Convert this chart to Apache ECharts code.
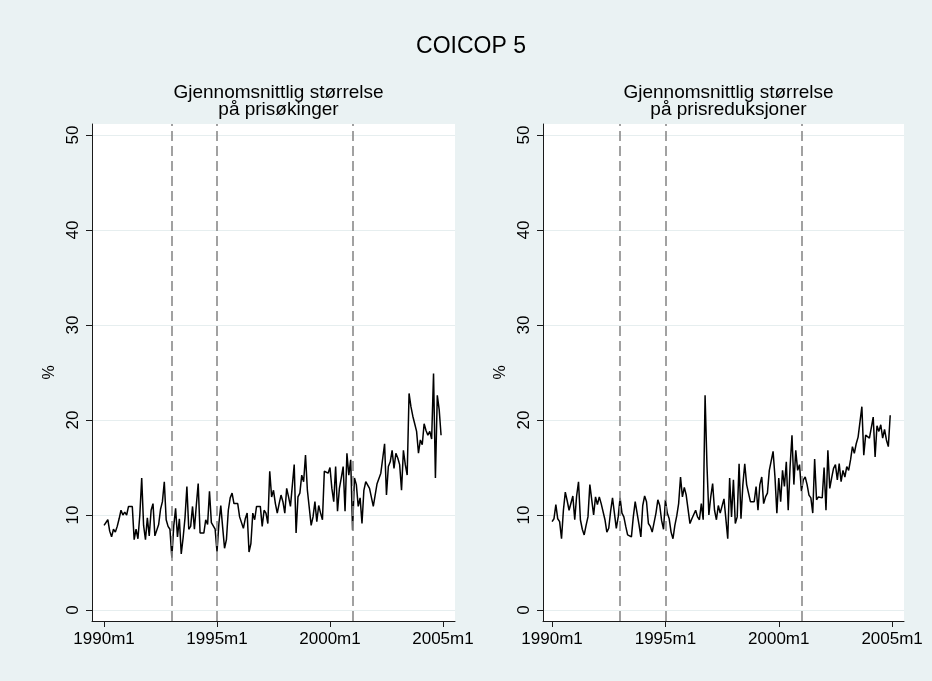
<!DOCTYPE html>
<html>
<head>
<meta charset="utf-8">
<script src="https://cdn.jsdelivr.net/npm/echarts@6/dist/echarts.min.js"></script>
<style>html,body{margin:0;padding:0;background:#EAF2F3;}#c{width:932px;height:681px;}</style>
</head>
<body>
<div id="c"></div>
<script>
// month index 0 = 1990m1
const xTickMonths = [0, 60, 120, 180];
const yTicks = [0, 10, 20, 30, 40, 50];
const eventMonths = [36, 60, 132];
const mainTitle = 'COICOP 5';
const leftTitle = 'Gjennomsnittlig størrelse\npå prisøkinger';
const rightTitle = 'Gjennomsnittlig størrelse\npå prisreduksjoner';

const increases = [
 8.9, 8.7, 9.5, 8.3, 7.7, 8.5, 8.2, 8.8, 9.6, 10.5,
 10.0, 10.3, 10.0, 10.9, 11.0, 10.9, 7.4, 8.5, 7.5, 10.0,
 13.9, 8.9, 7.4, 9.7, 7.8, 10.5, 11.2, 7.8, 8.0, 9.0,
 10.6, 11.4, 13.5, 9.5, 8.8, 8.5, 5.5, 8.8, 10.7, 7.7,
 9.6, 5.9, 7.6, 9.7, 13.0, 8.5, 8.8, 10.9, 8.5, 11.0,
 13.3, 8.1, 8.1, 8.1, 9.5, 9.0, 12.5, 9.2, 9.0, 8.5,
 6.1, 9.1, 11.0, 8.7, 6.5, 7.4, 10.5, 11.8, 12.3, 11.2,
 11.2, 11.2, 9.8, 10.0, 8.6, 9.6, 10.2, 6.1, 7.0, 10.2,
 9.5, 10.9, 10.7, 10.9, 8.8, 10.5, 10.2, 9.1, 14.6, 11.9,
 12.6, 11.2, 10.2, 11.2, 12.1, 11.4, 10.2, 12.8, 11.9, 10.9,
 10.7, 15.3, 8.1, 11.9, 12.3, 14.2, 13.5, 16.3, 12.6, 12.6,
 8.9, 9.8, 11.4, 9.3, 11.0, 10.2, 9.5, 14.6, 14.8, 14.4,
 15.0, 12.8, 11.4, 15.1, 10.4, 12.8, 13.9, 15.1, 10.4, 16.5,
 14.2, 15.8, 8.4, 13.9, 13.2, 10.9, 11.8, 9.1, 12.6, 13.5,
 13.3, 12.8, 12.8, 10.9, 10.9, 13.3, 13.5, 14.4, 14.6, 17.5,
 12.1, 15.1, 15.6, 16.8, 14.9, 16.5, 16.0, 15.3, 12.6, 16.8,
 15.3, 14.2, 22.8, 21.4, 20.4, 19.6, 18.8, 16.5, 17.9, 17.4,
 19.6, 18.9, 18.4, 18.8, 18.0, 24.9, 13.9, 22.6, 21.1, 18.4
];

const reductions = [
 9.3, 9.6, 11.1, 9.6, 9.3, 7.5, 10.5, 12.4, 11.5, 10.5,
 10.5, 12.0, 9.5, 12.0, 13.5, 9.5, 8.5, 7.9, 8.9, 9.8,
 13.2, 11.6, 10.0, 11.9, 11.1, 11.9, 11.2, 11.0, 9.5, 8.2,
 8.6, 10.4, 11.8, 10.2, 8.6, 9.8, 11.8, 10.2, 9.8, 8.8,
 7.9, 7.7, 7.7, 9.8, 11.4, 11.6, 9.0, 7.7, 11.0, 12.0,
 11.4, 9.1, 8.8, 8.2, 8.2, 10.2, 11.6, 11.0, 9.4, 8.5,
 11.6, 10.2, 9.6, 8.2, 7.5, 8.9, 9.9, 11.2, 14.0, 11.9,
 12.9, 12.1, 11.9, 9.1, 9.6, 9.8, 10.5, 9.8, 9.5, 11.2,
 9.5, 22.6, 15.2, 10.0, 11.9, 13.3, 10.5, 9.5, 11.0, 10.2,
 10.0, 11.7, 11.6, 7.5, 13.9, 9.8, 13.7, 9.1, 9.8, 15.4,
 9.6, 13.2, 15.4, 13.2, 13.2, 11.4, 11.4, 11.4, 13.0, 10.5,
 13.2, 14.0, 11.2, 11.9, 12.3, 14.7, 14.6, 16.7, 14.0, 10.2,
 13.9, 11.4, 14.7, 13.0, 15.6, 10.5, 15.1, 18.4, 13.2, 16.8,
 14.7, 15.3, 12.5, 13.7, 14.0, 13.2, 12.1, 11.8, 10.2, 15.9,
 11.6, 11.9, 12.1, 11.8, 15.0, 10.5, 16.8, 12.8, 13.9, 14.9,
 15.3, 13.7, 15.4, 13.5, 14.7, 14.0, 15.1, 14.7, 15.8, 17.2,
 16.5, 17.5, 18.2, 18.4, 21.4, 16.3, 18.4, 18.2, 18.1, 18.2,
 20.3, 16.1, 19.4, 18.8, 19.5, 18.1, 19.0, 17.9, 17.2, 20.5
];

const FONT = 'Liberation Sans, Arial, sans-serif';
const toPairs = arr => arr.map((v, i) => [i, v]);
const monthLabel = v => (1990 + Math.round(v) / 12) + 'm1';

function xAxis(idx, min, max) {
  return {
    type: 'value', gridIndex: idx, min: min, max: max,
    axisLine: { show: true, onZero: false, lineStyle: { color: '#1a1a1a', width: 1 } },
    axisTick: { show: true, length: 6, customValues: xTickMonths, lineStyle: { color: '#1a1a1a' } },
    axisLabel: { customValues: xTickMonths, formatter: monthLabel, color: '#000', fontFamily: FONT, fontSize: 17, margin: 10 },
    splitLine: { show: false }
  };
}
function yAxis(idx) {
  return {
    type: 'value', gridIndex: idx, min: -1.16, max: 51.16,
    name: '%', nameLocation: 'middle', nameGap: 34, nameRotate: 90,
    nameTextStyle: { color: '#000', fontFamily: FONT, fontSize: 16 },
    axisLine: { show: true, onZero: false, lineStyle: { color: '#1a1a1a', width: 1 } },
    axisTick: { show: true, length: 6, customValues: yTicks, lineStyle: { color: '#1a1a1a' } },
    axisLabel: { customValues: yTicks, rotate: 90, color: '#000', fontFamily: FONT, fontSize: 17, margin: 10 },
    splitLine: { show: true, lineStyle: { color: '#E6EEEF', width: 1.2 } }
  };
}
function series(idx, arr) {
  return {
    type: 'line', xAxisIndex: idx, yAxisIndex: idx,
    data: toPairs(arr), showSymbol: false, symbol: 'none',
    lineStyle: { color: '#000', width: 1.5 }, animation: false, silent: true,
    markLine: {
      silent: true, symbol: 'none', label: { show: false },
      lineStyle: { color: '#8a8a8a', type: [10, 5], width: 1.6 },
      data: eventMonths.map(m => ({ xAxis: m }))
    }
  };
}

const chart = echarts.init(document.getElementById('c'), null, { renderer: 'canvas' });
chart.setOption({
  backgroundColor: '#EAF2F3',
  animation: false,
  title: [
    { text: mainTitle, left: 466, top: 30, textAlign: 'center', textStyle: { fontFamily: FONT, fontSize: 23, fontWeight: 'normal', color: '#000' } },
    { text: leftTitle, left: 273.5, top: 79, textAlign: 'center', textStyle: { fontFamily: FONT, fontSize: 19, lineHeight: 17, fontWeight: 'normal', color: '#000' } },
    { text: rightTitle, left: 723.5, top: 79, textAlign: 'center', textStyle: { fontFamily: FONT, fontSize: 19, lineHeight: 17, fontWeight: 'normal', color: '#000' } }
  ],
  grid: [
    { left: 92, top: 124, width: 363, height: 497, show: true, backgroundColor: '#fff', borderWidth: 0 },
    { left: 543, top: 124, width: 361, height: 497, show: true, backgroundColor: '#fff', borderWidth: 0 }
  ],
  xAxis: [xAxis(0, -6.4, 186.4), xAxis(1, -4.8, 186.3)],
  yAxis: [yAxis(0), yAxis(1)],
  series: [series(0, increases), series(1, reductions)]
});
</script>
</body>
</html>
